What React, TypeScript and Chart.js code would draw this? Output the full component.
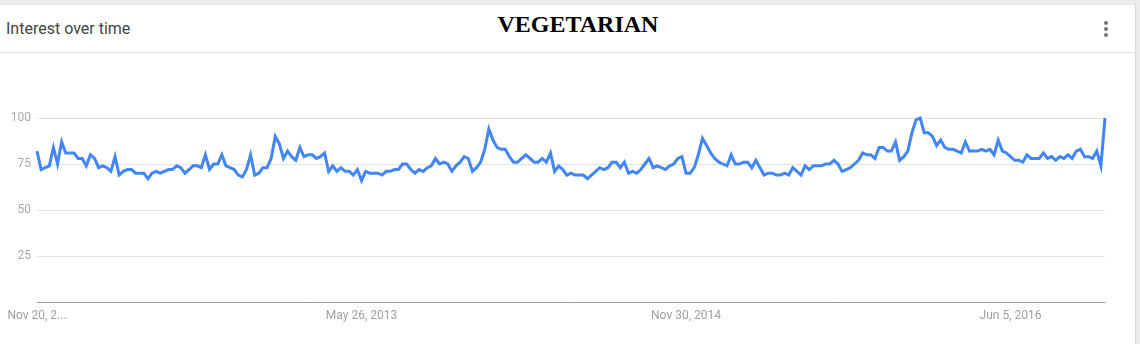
import React, { useEffect, useRef } from "react";
import { Chart, registerables } from "chart.js";

Chart.register(...registerables);

// Weekly interest values (Google Trends style), Nov 20, 2011 onwards
const seriesA: number[] = [
  82, 72, 73, 74, 84, 75, 87, 81, 81, 81, 78, 78, 74, 80, 78, 73, 74, 73, 71, 79,
  69, 71, 72, 72, 70, 70, 70, 67, 70, 71, 70, 71, 72, 72, 74, 73, 70, 72, 74, 74,
  73, 80, 72, 75, 75, 80, 74, 73, 72, 69, 68, 72, 80, 69, 70, 73, 73, 78, 90, 86,
  78, 82, 79, 77,
];
const seriesB: number[] = [
  84, 79, 80, 80, 78, 79, 81, 71, 74, 71, 73, 71, 71, 69, 72, 66, 71, 70, 70, 70,
  69, 71, 71, 72, 72, 75, 75, 72, 70, 72, 71, 73, 74, 78, 75, 76, 75, 71, 74, 76,
  79, 78, 71, 73, 76, 83, 94, 88, 84, 83, 83, 79, 76, 76, 78, 80, 78, 76, 76, 78,
  76, 81, 71, 74, 72, 69, 70, 69, 69,
];
const seriesC: number[] = [
  69, 67, 69, 71, 73, 72, 73, 76, 76, 73, 76, 70, 71, 70, 72, 75, 78, 73, 74, 73,
  72, 74, 75, 78, 79, 70, 70, 73, 80, 89, 85, 81, 78, 76, 75, 74, 80, 75, 75, 76,
  76, 73, 77, 73, 69, 70, 70, 69, 69, 70, 69, 73, 71, 69, 74, 72, 74, 74, 74, 75,
  75, 77, 75, 71, 72, 73, 75, 77,
];
const seriesD: number[] = [
  81, 80, 80, 78, 84, 84, 82, 82, 87, 77, 79, 82, 92, 99, 100, 92, 92, 90, 85, 88,
  84, 83, 83, 82, 81, 87, 82, 82, 82, 83, 82, 83, 80, 88, 82, 81, 79, 77, 77, 76,
  80, 78, 78, 78, 81, 78, 79, 77, 79, 78, 80, 78, 82, 83, 79, 79, 78, 82, 74, 100,
];
const interest: number[] = [...seriesA, ...seriesB, ...seriesC, ...seriesD];

const tickIndices: number[] = [0, 79, 158, 237];
const tickLabels: string[] = ["Nov 20, 2...", "May 26, 2013", "Nov 30, 2014", "Jun 5, 2016"];
const yTicks: number[] = [0, 25, 50, 75, 100];

const MONTHS = ["Jan", "Feb", "Mar", "Apr", "May", "Jun", "Jul", "Aug", "Sep", "Oct", "Nov", "Dec"];
const startDate = Date.UTC(2011, 10, 20);
const categories: string[] = interest.map((_, i) => {
  const d = new Date(startDate + i * 7 * 86400000);
  return `${MONTHS[d.getUTCMonth()]} ${d.getUTCDate()}, ${d.getUTCFullYear()}`;
});

export default function App() {
  const ref = useRef<HTMLCanvasElement | null>(null);

  useEffect(() => {
    if (!ref.current) return;
    const chart = new Chart(ref.current, {
      type: "line",
      data: {
        labels: categories,
        datasets: [
          {
            data: interest,
            borderColor: "#4285f4",
            borderWidth: 3,
            pointRadius: 0,
            pointHoverRadius: 0,
            tension: 0,
            fill: false,
            clip: false as any,
          },
        ],
      },
      options: {
        animation: false,
        responsive: false,
        maintainAspectRatio: false,
        layout: { padding: { top: 65, right: 30, left: 0, bottom: 0 } },
        plugins: { legend: { display: false }, tooltip: { enabled: false } },
        scales: {
          x: {
            type: "category",
            grid: { display: false, drawTicks: false },
            border: { display: true, color: "#9e9e9e", width: 1 },
            afterFit: (s: any) => {
              s.height = 42;
            },
            ticks: {
              autoSkip: false,
              maxRotation: 0,
              minRotation: 0,
              padding: 7,
              color: "#a0a0a0",
              font: { family: "Roboto", size: 12 },
              callback: (_v: any, idx: number) => {
                const k = tickIndices.indexOf(idx);
                return k >= 0 ? tickLabels[k] : null;
              },
            },
          },
          y: {
            min: 0,
            max: 100,
            afterFit: (s: any) => {
              s.width = 37;
            },
            afterBuildTicks: (s: any) => {
              s.ticks = yTicks.map((v) => ({ value: v }));
            },
            grid: {
              drawTicks: false,
              color: (c: any) => (c.tick && c.tick.value === 0 ? "rgba(0,0,0,0)" : "#e3e3e3"),
              lineWidth: 1,
            },
            border: { display: false },
            ticks: {
              padding: 6,
              color: "#aaaaaa",
              font: { family: "Roboto", size: 12 },
              callback: (v: any) => (v === 0 ? "" : String(v)),
            },
          },
        },
      },
    });
    return () => chart.destroy();
  }, []);

  return (
    <div
      style={{
        position: "absolute",
        left: 0,
        top: 0,
        width: 1140,
        height: 344,
        background: "#ececec",
        overflow: "hidden",
      }}
    >
      <div
        style={{
          position: "absolute",
          left: 0,
          top: 5,
          width: 1135,
          height: 339,
          background: "#ffffff",
          boxShadow: "1px 0 1px rgba(0,0,0,0.08)",
        }}
      />
      <div
        style={{
          position: "absolute",
          left: 6,
          top: 19,
          fontFamily: "Roboto",
          fontSize: 16,
          color: "#444444",
          lineHeight: "20px",
          whiteSpace: "nowrap",
        }}
      >
        Interest over time
      </div>
      <div
        style={{
          position: "absolute",
          left: 0,
          width: 1156,
          top: 9,
          textAlign: "center",
          fontFamily: "'Liberation Serif', serif",
          fontWeight: "bold",
          fontSize: 24,
          color: "#000000",
          lineHeight: "30px",
          whiteSpace: "nowrap",
        }}
      >
        VEGETARIAN
      </div>
      {[23, 29, 35].map((y) => (
        <div
          key={y}
          style={{
            position: "absolute",
            left: 1104,
            top: y - 2,
            width: 4,
            height: 4,
            borderRadius: 2,
            background: "#757575",
          }}
        />
      ))}
      <div
        style={{
          position: "absolute",
          left: 0,
          top: 52,
          width: 1135,
          height: 1,
          background: "#e0e0e0",
        }}
      />
      <canvas
        ref={ref}
        width={1135}
        height={291}
        style={{ position: "absolute", left: 0, top: 53, width: 1135, height: 291 }}
      />
    </div>
  );
}
